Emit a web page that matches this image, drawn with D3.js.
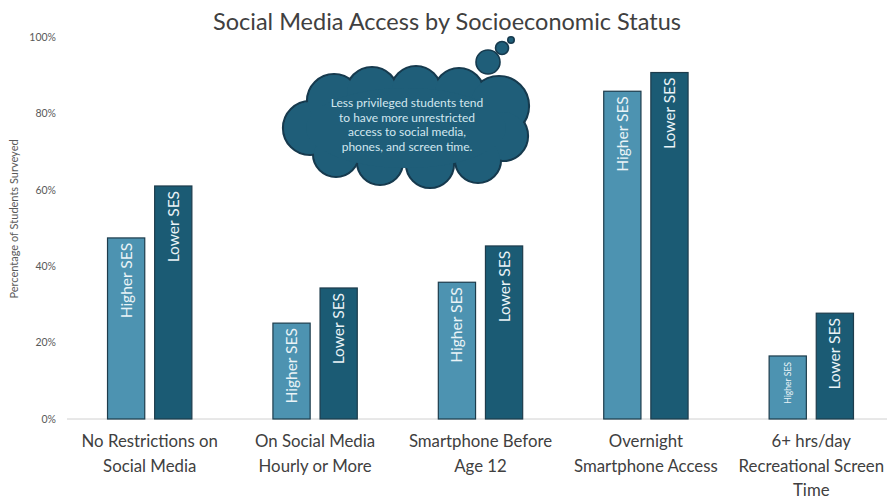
<!DOCTYPE html>
<html>
<head>
<meta charset="utf-8">
<script src="https://cdn.jsdelivr.net/npm/d3@7"></script>
<style>
  html, body { margin: 0; padding: 0; background: #ffffff; }
  svg { display: block; font-family: Lato, "Open Sans", "DejaVu Sans", sans-serif; }
</style>
</head>
<body>
<svg id="chart" width="887" height="499"></svg>
<script>
// Categories (line breaks mark where the axis label wraps)
const categories = [
  "No Restrictions on\nSocial Media",
  "On Social Media\nHourly or More",
  "Smartphone Before\nAge 12",
  "Overnight\nSmartphone Access",
  "6+ hrs/day\nRecreational Screen\nTime"
];
const seriesNames = ["Higher SES", "Lower SES"];
const higherSES = [0.474, 0.251, 0.358, 0.858, 0.165];
const lowerSES  = [0.610, 0.343, 0.453, 0.907, 0.277];
const yTicks = [0, 0.2, 0.4, 0.6, 0.8, 1.0];
const titleText = "Social Media Access by Socioeconomic Status";
const yAxisTitle = "Percentage of Students Surveyed";
const calloutLines = [
  "Less privileged students tend",
  "to have more unrestricted",
  "access to social media,",
  "phones, and screen time."
];

const colors = { "Higher SES": "#4d93b1", "Lower SES": "#1b5b74" };

const svg = d3.select("#chart");

const x0 = d3.scaleBand().domain(categories).range([67, 894]).padding(0);
const x1 = d3.scaleBand().domain(seriesNames).range([0, x0.bandwidth()])
  .paddingInner(0.21).paddingOuter(0.86);
const y = d3.scaleLinear().domain([0, 1]).range([419, 37]);

// Title
svg.append("text")
  .attr("x", 447).attr("y", 30)
  .attr("text-anchor", "middle")
  .attr("font-size", 23.5)
  .attr("fill", "#404040")
  .text(titleText);

// Y axis (labels only, no line)
const yAxis = d3.axisLeft(y).tickValues(yTicks).tickFormat(d3.format(".0%")).tickSize(0).tickPadding(0);
const yg = svg.append("g").attr("transform", "translate(56,0)").call(yAxis);
yg.select(".domain").remove();
yg.selectAll("text").attr("font-size", 10.5).attr("fill", "#595959")
  .attr("font-family", "Lato, 'Open Sans', sans-serif");

svg.append("text")
  .attr("transform", "translate(18,219) rotate(-90)")
  .attr("text-anchor", "middle")
  .attr("font-size", 11)
  .attr("fill", "#595959")
  .text(yAxisTitle);

// Baseline
svg.append("line")
  .attr("x1", 67).attr("x2", 887)
  .attr("y1", y(0)).attr("y2", y(0))
  .attr("stroke", "#d0d0d0").attr("stroke-width", 1);

// Bars
const rows = categories.map((c, i) => ({
  cat: c,
  values: [
    { key: "Higher SES", value: higherSES[i] },
    { key: "Lower SES", value: lowerSES[i] }
  ]
}));

const groups = svg.selectAll("g.group").data(rows).join("g")
  .attr("class", "group")
  .attr("transform", d => `translate(${x0(d.cat)},0)`);

groups.selectAll("rect").data(d => d.values).join("rect")
  .attr("x", d => x1(d.key))
  .attr("y", d => y(d.value))
  .attr("width", x1.bandwidth())
  .attr("height", d => y(0) - y(d.value))
  .attr("fill", d => colors[d.key])
  .attr("stroke", "#1d3c4c")
  .attr("stroke-width", 1.2);

// Series names written inside each bar, reading upward from near the top
const labelSize = 15.5;
groups.selectAll("text.barlabel").data(d => d.values).join("text")
  .attr("class", "barlabel")
  .attr("text-anchor", "end")
  .attr("font-size", labelSize)
  .attr("fill", "#eaf3f7")
  .attr("transform", d => `translate(${x1(d.key) + x1.bandwidth() / 2 + 5.5},${y(d.value) + 5}) rotate(-90)`)
  .text(d => d.key)
  .each(function(d) {
    const h = y(0) - y(d.value) - 12;
    const len = this.getComputedTextLength();
    if (len > h) d3.select(this).attr("font-size", labelSize * h / len * 0.82)
      .attr("transform", `translate(${x1(d.key) + x1.bandwidth() / 2 + 3.5},${y(d.value) + 6}) rotate(-90)`);
  });

// Category labels
const xl = svg.selectAll("text.xlabel").data(categories).join("text")
  .attr("class", "xlabel")
  .attr("text-anchor", "middle")
  .attr("font-size", 16.8)
  .attr("fill", "#404040")
  .attr("x", d => x0(d) + x0.bandwidth() / 2)
  .attr("y", 447);
xl.selectAll("tspan").data(d => d.split("\n")).join("tspan")
  .attr("x", function() { return this.parentNode.getAttribute("x"); })
  .attr("dy", (d, i) => i === 0 ? 0 : 24.5)
  .text(d => d);

// Thought-cloud callout
const cloud = svg.append("g");
const cloudFill = "#1f5e79", cloudStroke = "#163a4e";
const puffs = [
  [310, 128, 27], [334, 101, 27], [372, 93, 26], [416, 91, 25],
  [459, 93, 25], [499, 106, 30], [503, 136, 25], [478, 160, 23],
  [430, 164, 24], [380, 162, 23], [336, 154, 23]
];
const bubbles = [[488, 62, 12], [502, 48, 6.5], [511, 40, 3.2]];
// outline pass
cloud.selectAll("circle.o").data(puffs).join("circle")
  .attr("class", "o")
  .attr("cx", d => d[0]).attr("cy", d => d[1]).attr("r", d => d[2])
  .attr("fill", cloudFill).attr("stroke", cloudStroke).attr("stroke-width", 2.2);
// fill pass hides interior outlines
cloud.selectAll("circle.f").data(puffs).join("circle")
  .attr("class", "f")
  .attr("cx", d => d[0]).attr("cy", d => d[1]).attr("r", d => d[2] - 1.1)
  .attr("fill", cloudFill);
cloud.append("ellipse")
  .attr("cx", 406).attr("cy", 128).attr("rx", 100).attr("ry", 40)
  .attr("fill", cloudFill);
cloud.selectAll("circle.b").data(bubbles).join("circle")
  .attr("class", "b")
  .attr("cx", d => d[0]).attr("cy", d => d[1]).attr("r", d => d[2])
  .attr("fill", cloudFill).attr("stroke", cloudStroke).attr("stroke-width", 1.6);

cloud.selectAll("text").data(calloutLines).join("text")
  .attr("x", 407)
  .attr("y", (d, i) => 107 + i * 14.6)
  .attr("text-anchor", "middle")
  .attr("font-size", 12)
  .attr("fill", "#d3e7ef")
  .text(d => d);
</script>
</body>
</html>
